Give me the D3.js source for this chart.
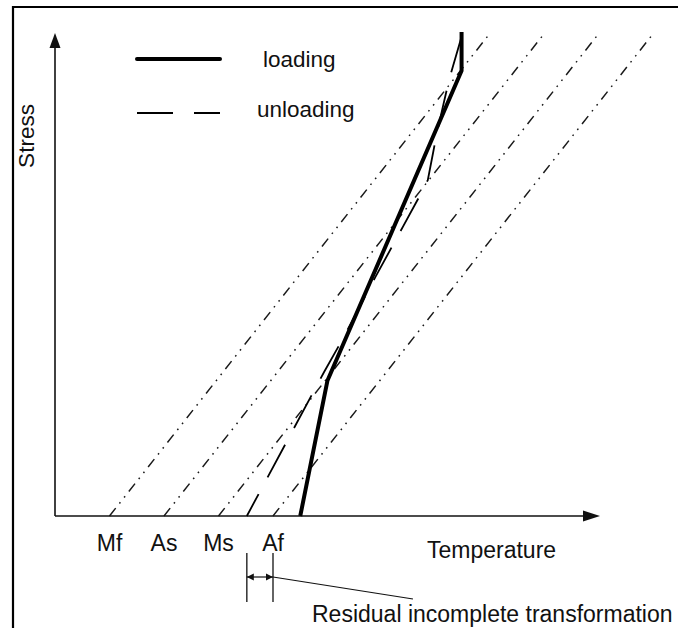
<!DOCTYPE html>
<html>
<head>
<meta charset="utf-8">
<script src="https://cdn.jsdelivr.net/npm/d3@7"></script>
<style>
  html, body { margin: 0; padding: 0; background: #fff; }
  svg { display: block; }
  text { font-family: "Liberation Sans", Arial, Helvetica, sans-serif; fill: #111; }
</style>
</head>
<body>
<svg id="chart" width="678" height="628"></svg>
<script>
// ---- data (temperature / stress in arbitrary units) ----
const transformationLabels = ["Mf", "As", "Ms", "Af"];
const transformationTemps = [10, 20, 30, 40];      // intercepts at zero stress
const transformationSlope = 0.7;                     // temperature shift per unit stress
const loadingPath = [[45, 0], [50, 28], [74.6, 92], [74.6, 100]];
const unloadingPath = [[74.6, 99], [72.3, 90.1], [70.1, 79.3], [69.4, 75.2], [68.4, 69.4],
                       [67.0, 66.3], [63.9, 59.9], [58.9, 49.6], [52.7, 36.4], [49.4, 29.8], [35.2, 0]];
const residualRange = [35.2, 40];
const legendItems = ["loading", "unloading"];
const xAxisTitle = "Temperature";
const yAxisTitle = "Stress";
const noteText = "Residual incomplete transformation";

// ---- layout ----
const svg = d3.select("#chart");
const x = d3.scaleLinear().domain([0, 100]).range([55, 600]);
const y = d3.scaleLinear().domain([0, 100]).range([516, 32]);
const ink = "#111";

// frame (left & top)
svg.append("path").attr("d", "M13,628 L13,7 L678,7")
  .attr("fill", "none").attr("stroke", "#000").attr("stroke-width", 2.2);

// transformation lines (dash-dot-dot)
const line = d3.line().x(d => x(d[0])).y(d => y(d[1]));
svg.append("g").selectAll("path").data(transformationTemps).join("path")
  .attr("d", t => line([[t, 0], [t + transformationSlope * 100, 100]]))
  .attr("fill", "none").attr("stroke", "#1a1a1a").attr("stroke-width", 1.5)
  .attr("stroke-dasharray", "10,6,1.6,6,1.6,6");

// axes
const x0 = x(0), y0 = y(0);
svg.append("line").attr("x1", x0).attr("y1", y0).attr("x2", x(100) - 14).attr("y2", y0)
  .attr("stroke", ink).attr("stroke-width", 1.6);
svg.append("path").attr("d", `M${x(100)},${y0} L${x(100) - 17},${y0 - 5.5} L${x(100) - 17},${y0 + 5.5} Z`).attr("fill", ink);
svg.append("line").attr("x1", x0).attr("y1", y0).attr("x2", x0).attr("y2", y(100) + 12)
  .attr("stroke", ink).attr("stroke-width", 1.6);
svg.append("path").attr("d", `M${x0},${y(100) + 1} L${x0 - 5.5},${y(100) + 16} L${x0 + 5.5},${y(100) + 16} Z`).attr("fill", ink);

// loading & unloading
svg.append("path").attr("d", line(loadingPath)).attr("fill", "none")
  .attr("stroke", "#000").attr("stroke-width", 4).attr("stroke-linejoin", "round");
svg.append("path").attr("d", line(unloadingPath)).attr("fill", "none")
  .attr("stroke", "#000").attr("stroke-width", 1.8).attr("stroke-dasharray", "37,19");

// legend
const lg = svg.append("g");
lg.append("line").attr("x1", 137).attr("x2", 220).attr("y1", 59).attr("y2", 59)
  .attr("stroke", "#000").attr("stroke-width", 4).attr("stroke-linecap", "round");
lg.append("line").attr("x1", 137).attr("x2", 220).attr("y1", 113).attr("y2", 113)
  .attr("stroke", "#000").attr("stroke-width", 1.8).attr("stroke-dasharray", "36,21");
lg.selectAll("text").data(legendItems).join("text")
  .attr("x", (d, i) => i === 0 ? 263 : 257).attr("y", (d, i) => i === 0 ? 67 : 117)
  .attr("font-size", 22.5).text(d => d);

// transformation labels
svg.append("g").selectAll("text").data(transformationTemps).join("text")
  .attr("x", t => x(t)).attr("y", 551).attr("text-anchor", "middle")
  .attr("font-size", 23).text((t, i) => transformationLabels[i]);

// axis titles
svg.append("text").attr("x", 427).attr("y", 558).attr("font-size", 23).text(xAxisTitle);
svg.append("text").attr("transform", "translate(34,136) rotate(-90)").attr("text-anchor", "middle")
  .attr("font-size", 22.5).text(yAxisTitle);

// residual annotation
const rx1 = x(residualRange[0]), rx2 = x(residualRange[1]);
svg.append("line").attr("x1", rx1).attr("x2", rx1).attr("y1", 553).attr("y2", 602).attr("stroke", ink).attr("stroke-width", 1.3);
svg.append("line").attr("x1", rx2).attr("x2", rx2).attr("y1", 553).attr("y2", 602).attr("stroke", ink).attr("stroke-width", 1.3);
svg.append("line").attr("x1", rx1).attr("x2", rx2).attr("y1", 577).attr("y2", 577).attr("stroke", ink).attr("stroke-width", 1.2);
svg.append("path").attr("d", `M${rx1},577 L${rx1 + 7},573.5 L${rx1 + 7},580.5 Z`).attr("fill", ink);
svg.append("path").attr("d", `M${rx2},577 L${rx2 - 7},573.5 L${rx2 - 7},580.5 Z`).attr("fill", ink);
svg.append("line").attr("x1", rx2).attr("y1", 577).attr("x2", 413).attr("y2", 599).attr("stroke", ink).attr("stroke-width", 1.2);
svg.append("text").attr("x", 312).attr("y", 622).attr("font-size", 23).text(noteText);
</script>
</body>
</html>
